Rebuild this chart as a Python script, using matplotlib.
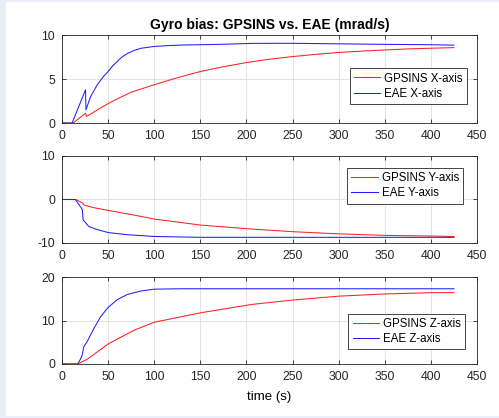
# Gyro bias: GPSINS vs. EAE, three stacked panels (X, Y, Z axis)

import matplotlib.pyplot as plt
from matplotlib.patches import Rectangle

plt.rcParams['font.family'] = ['Liberation Sans', 'DejaVu Sans']
plt.rcParams['axes.unicode_minus'] = False

# values (time in s, bias in mrad/s)
t_gps_x = [0, 12, 25.5, 26.5, 30, 40, 50, 60, 75, 100, 125, 150, 175, 200, 225, 250, 275, 300, 325, 350, 375, 400, 425]
gps_x = [0, 0, 1.1, 0.75, 0.95, 1.6, 2.2, 2.75, 3.5, 4.35, 5.15, 5.85, 6.4, 6.87, 7.25, 7.55, 7.8, 8.02, 8.17, 8.3, 8.42, 8.5, 8.57]
t_eae_x = [0, 11, 25.5, 26, 31, 38, 45, 50, 55, 60, 65, 71, 78, 86, 100, 115, 133, 151, 175, 206, 250, 300, 350, 400, 425]
eae_x = [0, 0, 3.77, 1.5, 3.0, 4.3, 5.3, 5.85, 6.5, 7.0, 7.5, 7.9, 8.25, 8.5, 8.7, 8.8, 8.87, 8.9, 8.95, 9.05, 9.06, 9.0, 8.94, 8.9, 8.85]

t_gps_y = [0, 14.6, 22, 24, 35, 50, 78.5, 100, 151, 206, 250, 300, 350, 400, 425]
gps_y = [0, 0, -0.75, -1.3, -1.9, -2.5, -3.6, -4.5, -5.9, -6.8, -7.4, -7.9, -8.25, -8.4, -8.5]
t_eae_y = [0, 14.6, 22, 23, 25.5, 29, 36.5, 50, 71, 100, 150, 206, 300, 425]
eae_y = [0, 0, -2.3, -4.7, -5.3, -6.2, -6.8, -7.6, -8.1, -8.5, -8.7, -8.7, -8.7, -8.7]

t_gps_z = [0, 17, 27.4, 50, 78.5, 100, 151, 206, 250, 300, 350, 400, 425]
gps_z = [0, 0, 1.1, 4.6, 7.8, 9.6, 11.8, 13.7, 14.7, 15.6, 16.1, 16.4, 16.4]
t_eae_z = [0, 17, 20, 22, 23.7, 27.4, 34.7, 42, 50, 60, 71, 86, 100, 130, 200, 300, 425]
eae_z = [0, 0, 1.1, 2.1, 4.0, 5.2, 8.2, 10.9, 13.0, 14.8, 16.0, 16.8, 17.2, 17.3, 17.3, 17.3, 17.3]

axis_names = ['X', 'Y', 'Z']
y_ranges = [(0, 10), (-10, 10), (0, 20)]
y_ticks = [[0, 5, 10], [-10, 0, 10], [0, 10, 20]]
x_ticks = [0, 50, 100, 150, 200, 250, 300, 350, 400, 450]

fig = plt.figure(figsize=(4.99, 4.18), dpi=100)
fig.patch.set_facecolor('#e9edf7')
# white figure area inside the window border
fig.patches.append(Rectangle((0.012, 0.005), 1.0, 0.99, transform=fig.transFigure,
                             facecolor='white', edgecolor='none', zorder=-1))

positions = [[0.1242, 0.7057, 0.8317, 0.2105],
             [0.1242, 0.4187, 0.8317, 0.2081],
             [0.1242, 0.1292, 0.8317, 0.2081]]
legend_anchor = [(0.976, 0.216, 'lower right'),
                 (0.966, 0.862, 'upper right'),
                 (0.971, 0.17, 'lower right')]

data = [(t_gps_x, gps_x, t_eae_x, eae_x),
        (t_gps_y, gps_y, t_eae_y, eae_y),
        (t_gps_z, gps_z, t_eae_z, eae_z)]

for i in range(3):
    ax = fig.add_axes(positions[i])
    tg, g, te, e = data[i]
    ax.plot(tg, g, color='#ff2020', lw=0.75, label='GPSINS ' + axis_names[i] + '-axis')
    ax.plot(te, e, color='#2020ff', lw=0.75, label='EAE ' + axis_names[i] + '-axis')
    ax.set_xlim(0, 450)
    ax.set_ylim(*y_ranges[i])
    ax.set_xticks(x_ticks)
    ax.set_yticks(y_ticks[i])
    ax.grid(True, color='#e3e3e3', lw=0.7)
    ax.set_axisbelow(True)
    ax.tick_params(direction='in', top=True, right=True, length=3, width=0.6,
                   labelsize=8.8, colors='#262626')
    ax.tick_params(axis='x', pad=5)
    ax.tick_params(axis='y', pad=5)
    for s in ax.spines.values():
        s.set_color('#262626')
        s.set_linewidth(0.6)
    ax.set_facecolor('white')
    leg = ax.legend(loc=legend_anchor[i][2], bbox_to_anchor=legend_anchor[i][:2],
                    fontsize=8.3, fancybox=False, framealpha=1, edgecolor='#262626',
                    handlelength=2.3, borderpad=0.35, labelspacing=0.3, handletextpad=0.35,
                    borderaxespad=0)
    leg.get_frame().set_linewidth(0.6)
    if i == 0:
        ax.set_title('Gyro bias: GPSINS vs. EAE (mrad/s)', fontsize=10, fontweight='bold', pad=4)
    if i == 2:
        ax.set_xlabel('time (s)', fontsize=9.5, labelpad=6)

fig.savefig('out.png', dpi=100)
